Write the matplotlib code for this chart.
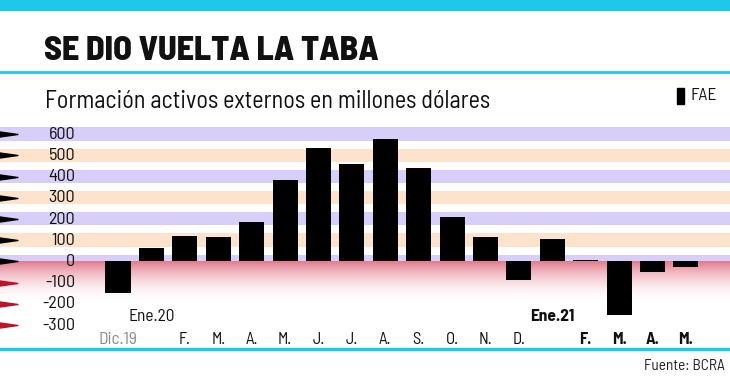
import numpy as np
import matplotlib
matplotlib.use("Agg")
import matplotlib.pyplot as plt
from matplotlib.path import Path
from matplotlib.colors import LinearSegmentedColormap

plt.rcParams['font.family'] = ['Barlow Semi Condensed', 'DejaVu Sans']

# data (millones de dólares)
months = ["Dic.19", "Ene.20", "F.", "M.", "A.", "M.", "J.", "J.", "A.", "S.", "O.", "N.", "D.",
          "Ene.21", "F.", "M.", "A.", "M."]
fae = [-150, 65, 120, 117, 188, 385, 535, 460, 578, 440, 208, 117, -87,
       105, 8, -252, -48, -25]
yticks = [600, 500, 400, 300, 200, 100, 0, -100, -200, -300]

W, H = 730, 376
fig = plt.figure(figsize=(W / 100, H / 100), dpi=100)
fig.patch.set_facecolor("white")

cyan = "#1ec8e8"

# main axes spans the full width
ax = fig.add_axes([0, 1 - 348 / H, 1, (348 - 120) / H])
ax.set_xlim(-3.533, 18.32)
ax.set_ylim(-408, 667)
ax.axis("off")

# horizontal bands
purple = "#d8cefa"
orange = "#fde3cc"
for i, v in enumerate(yticks):
    if v < 0:
        continue
    c = purple if i % 2 == 0 else orange
    lo = v - 30 if v > 0 else v
    ax.axhspan(lo, v + 32, color=c, lw=0, zorder=0)

# red gradient below zero
cmap = LinearSegmentedColormap.from_list("rg", [(1, 1, 1, 0), (0.88, 0.42, 0.50, 0.9)])
grad = np.linspace(0, 1, 100).reshape(-1, 1)
ax.imshow(grad, cmap=cmap, aspect="auto", extent=(-3.533, 18.32, -200, 0),
          origin="lower", zorder=0.5)
ax.set_xlim(-3.533, 18.32)
ax.set_ylim(-408, 667)

# bars
x = np.arange(len(fae))
ax.bar(x, fae, width=0.75, color="black", zorder=3)

# y tick labels and arrow markers
arrow = Path([(-1, 0.28), (1, 0), (-1, -0.28), (-1, 0.28)],
             [Path.MOVETO, Path.LINETO, Path.LINETO, Path.CLOSEPOLY])
trans = ax.get_yaxis_transform()
for v in yticks:
    ax.text(75 / W, v, str(v), transform=trans, ha="right", va="center",
            fontsize=13, color="#111111", zorder=4)
    ax.plot(7 / W, v, marker=arrow, markersize=15, color="black" if v >= 0 else "#c0102a",
            transform=trans, clip_on=False, zorder=4)

# x labels
xlab_y = -368
for i, m in enumerate(months):
    if m == "Dic.19":
        ax.text(i, xlab_y, m, ha="center", va="center", fontsize=12.5, color="#8a8a8a")
    elif m == "Ene.20":
        ax.text(i, -258, m, ha="center", va="center", fontsize=12.5, color="#111111")
    elif m == "Ene.21":
        ax.text(i, -258, m, ha="center", va="center", fontsize=12.5, color="#111111",
                fontweight="bold")
    else:
        bold = i > 13
        ax.text(i, xlab_y, m, ha="center", va="center", fontsize=12, color="#111111",
                fontweight="bold" if bold else "normal")

# header and decorations
deco = fig.add_axes([0, 0, 1, 1])
deco.set_xlim(0, W)
deco.set_ylim(H, 0)
deco.axis("off")
deco.set_zorder(-1)
deco.axhspan(0, 11, color=cyan, lw=0)
deco.axhline(72, color=cyan, lw=2)
deco.axhline(348.5, color=cyan, lw=2.5)

fig.text(44 / W, 1 - 51 / H, "SE DIO VUELTA LA TABA", fontsize=24.5, fontweight=800,
         ha="left", va="center", color="#111111")
fig.text(45 / W, 1 - 102 / H, "Formación activos externos en millones dólares", fontsize=17.4,
         ha="left", va="center", color="#111111")
fig.patches.append(plt.Rectangle((677 / W, 1 - 104 / H), 7 / W, 16 / H, color="black",
                                 transform=fig.transFigure, figure=fig))
fig.text(690 / W, 1 - 96 / H, "FAE", fontsize=12.5, ha="left", va="center", color="#111111")
fig.text(725 / W, 1 - 366 / H, "Fuente: BCRA", fontsize=11, ha="right", va="center",
         color="#222222")

fig.savefig("out.png", dpi=100)
